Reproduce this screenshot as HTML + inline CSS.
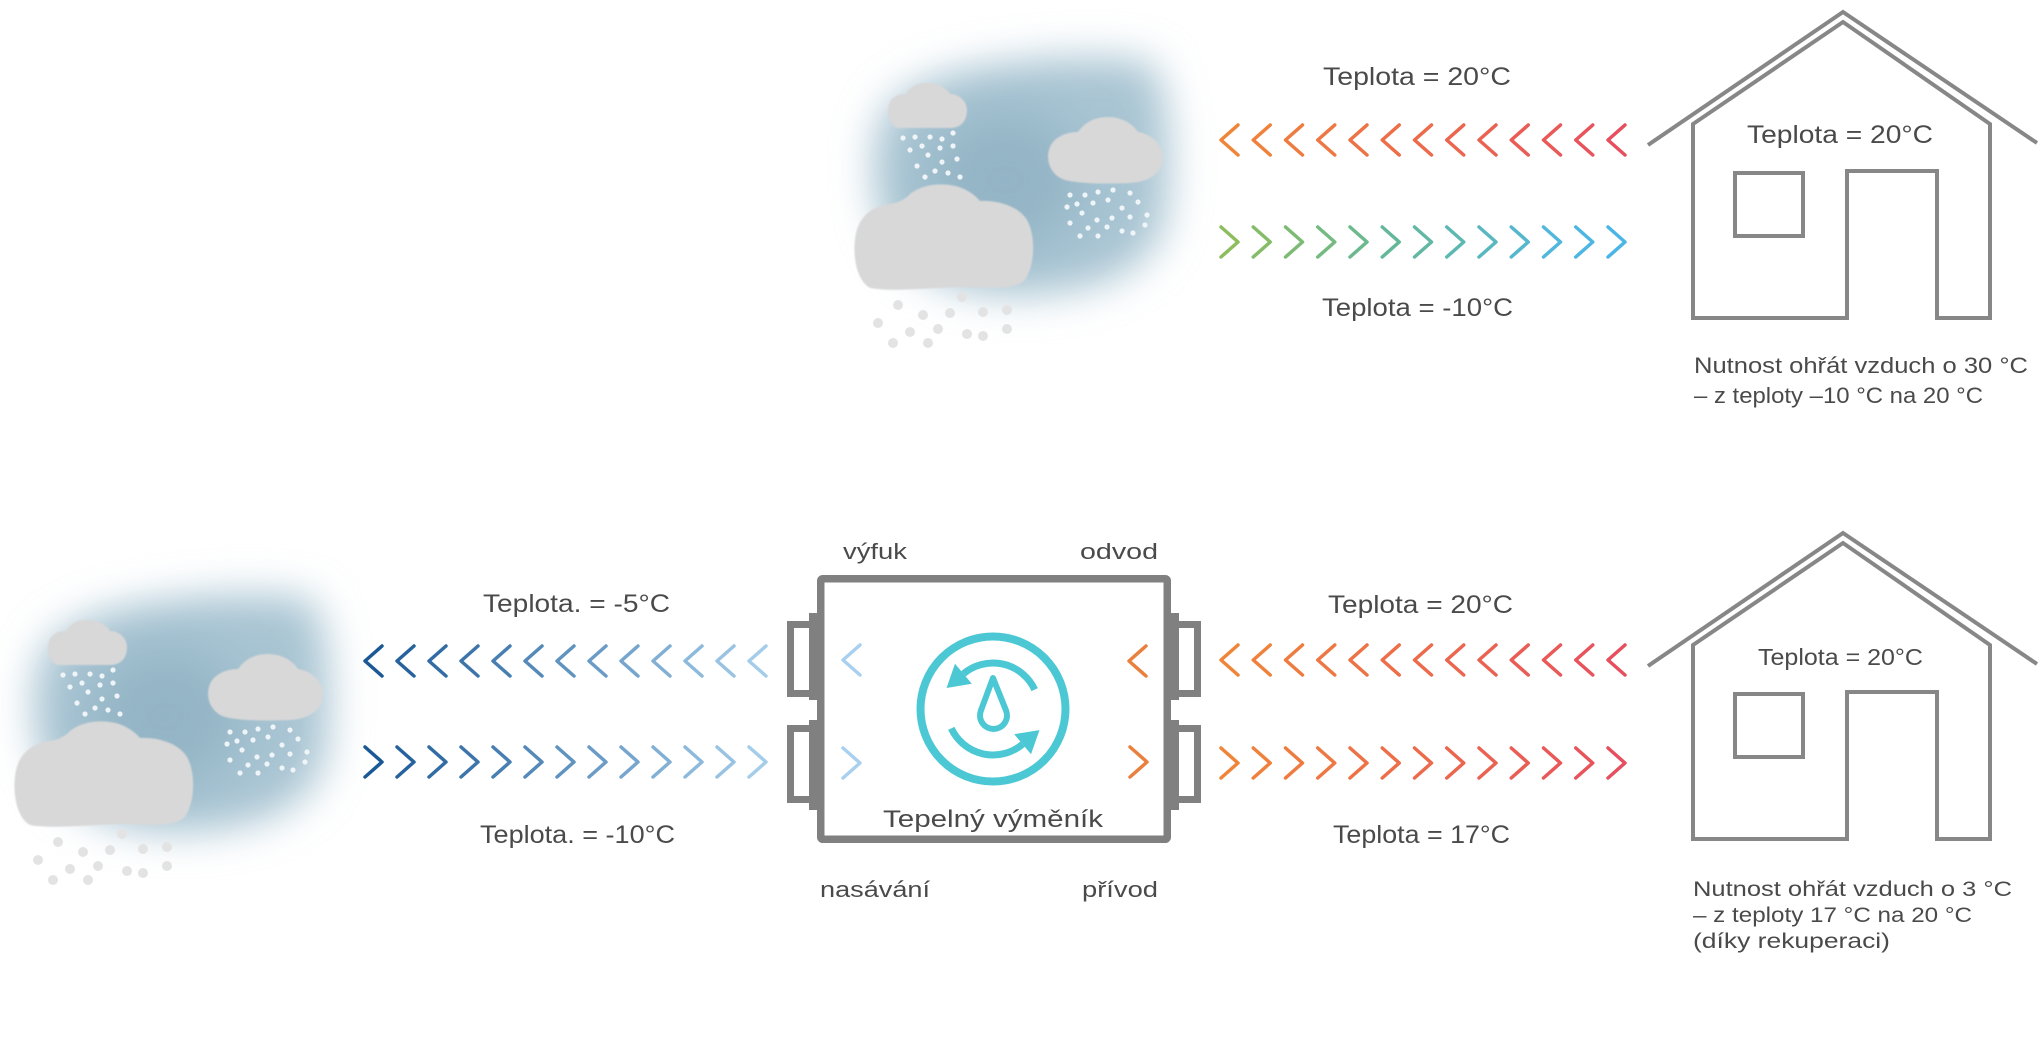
<!DOCTYPE html>
<html>
<head>
<meta charset="utf-8">
<style>
  html,body{margin:0;padding:0;background:#fff;}
  body{width:2038px;height:1040px;overflow:hidden;}
  svg{display:block;}
  text{font-family:"Liberation Sans",Arial,sans-serif;fill:#4a4a4a;}
</style>
</head>
<body>
<svg width="2038" height="1040" viewBox="0 0 2038 1040" xmlns="http://www.w3.org/2000/svg">
  <defs>
    <filter id="blur" x="-50%" y="-50%" width="200%" height="200%">
      <feGaussianBlur stdDeviation="20"/>
    </filter>
    <filter id="blur2" x="-60%" y="-60%" width="220%" height="220%">
      <feGaussianBlur stdDeviation="28"/>
    </filter>
    <filter id="soft" x="-10%" y="-10%" width="120%" height="120%">
      <feGaussianBlur stdDeviation="0.8"/>
    </filter>
    <path id="lt" d="M17 -15 L0 0 L17 15" fill="none"/>
    <path id="gt" d="M0 -15 L17 0 L0 15" fill="none"/>

    <g id="cl">
      <!-- haze -->
      <path d="M878 130 C885 100 915 82 960 72 C1010 60 1090 52 1150 62 C1172 90 1172 170 1166 215 C1160 250 1135 272 1095 285 C1055 296 1005 298 970 290 C925 280 890 255 880 215 C872 185 872 155 878 130 Z" fill="#a9c5d3" filter="url(#blur)"/>
      <ellipse cx="1005" cy="180" rx="80" ry="70" fill="#8cafc1" opacity="0.75" filter="url(#blur2)"/>
      <!-- white dots under small cloud -->
      <g fill="#eef4f7">
        <circle cx="903" cy="138" r="2.6"/><circle cx="915" cy="137" r="2.6"/><circle cx="930" cy="137" r="2.6"/>
        <circle cx="942" cy="139" r="2.6"/><circle cx="953" cy="133" r="2.6"/><circle cx="910" cy="150" r="2.6"/>
        <circle cx="922" cy="146" r="2.6"/><circle cx="940" cy="148" r="2.6"/><circle cx="953" cy="146" r="2.6"/>
        <circle cx="928" cy="155" r="2.6"/><circle cx="917" cy="166" r="2.6"/><circle cx="942" cy="162" r="2.6"/>
        <circle cx="957" cy="159" r="2.6"/><circle cx="925" cy="177" r="2.6"/><circle cx="935" cy="171" r="2.6"/>
        <circle cx="948" cy="173" r="2.6"/><circle cx="960" cy="177" r="2.6"/>
        <!-- under right cloud -->
        <circle cx="1070" cy="195" r="2.6"/><circle cx="1085" cy="195" r="2.6"/><circle cx="1098" cy="192" r="2.6"/>
        <circle cx="1113" cy="190" r="2.6"/><circle cx="1130" cy="193" r="2.6"/><circle cx="1067" cy="207" r="2.6"/>
        <circle cx="1077" cy="204" r="2.6"/><circle cx="1093" cy="203" r="2.6"/><circle cx="1108" cy="200" r="2.6"/>
        <circle cx="1122" cy="208" r="2.6"/><circle cx="1138" cy="202" r="2.6"/><circle cx="1082" cy="213" r="2.6"/>
        <circle cx="1097" cy="220" r="2.6"/><circle cx="1112" cy="218" r="2.6"/><circle cx="1130" cy="217" r="2.6"/>
        <circle cx="1070" cy="223" r="2.6"/><circle cx="1088" cy="228" r="2.6"/><circle cx="1107" cy="227" r="2.6"/>
        <circle cx="1122" cy="231" r="2.6"/><circle cx="1133" cy="233" r="2.6"/><circle cx="1080" cy="236" r="2.6"/>
        <circle cx="1098" cy="236" r="2.6"/><circle cx="1145" cy="225" r="2.6"/><circle cx="1147" cy="215" r="2.6"/>
      </g>
      <!-- clouds -->
      <g fill="#d8d8d8" filter="url(#soft)">
        <path d="M898 128 C888 126 886 110 890 102 C893 96 900 94 906 94 C910 86 920 82 930 83 C940 84 947 89 950 94 C960 94 967 102 967 110 C967 122 960 128 950 128 Z"/>
        <path d="M1065 180 C1050 175 1046 160 1049 150 C1052 138 1065 132 1078 132 C1085 122 1095 117 1108 117 C1122 117 1133 124 1138 132 C1152 134 1163 145 1163 157 C1163 172 1150 182 1130 183 C1110 184 1080 184 1065 180 Z"/>
        <path d="M870 288 C856 280 853 255 855 240 C857 220 868 207 890 204 C898 203 903 200 908 196 C918 186 935 183 950 185 C965 187 975 195 980 201 C995 200 1018 205 1027 220 C1036 236 1035 265 1025 280 C1015 290 990 288 960 287 C930 288 890 292 870 288 Z"/>
      </g>
      <!-- gray dots below big cloud -->
      <g fill="#e3e3e3">
        <circle cx="898" cy="305" r="5"/><circle cx="962" cy="297" r="5"/><circle cx="923" cy="315" r="5"/>
        <circle cx="950" cy="313" r="5"/><circle cx="983" cy="312" r="5"/><circle cx="1007" cy="310" r="5"/>
        <circle cx="878" cy="323" r="5"/><circle cx="910" cy="332" r="5"/><circle cx="938" cy="329" r="5"/>
        <circle cx="967" cy="334" r="5"/><circle cx="983" cy="336" r="5"/><circle cx="1007" cy="329" r="5"/>
        <circle cx="893" cy="343" r="5"/><circle cx="928" cy="343" r="5"/>
      </g>
    </g>
  </defs>

  <!-- ================= TOP SECTION ================= -->
  <use href="#cl"/>

  <text x="1323" y="85" font-size="25" textLength="188" lengthAdjust="spacingAndGlyphs">Teplota = 20°C</text>
  <text x="1322" y="316" font-size="25" textLength="191" lengthAdjust="spacingAndGlyphs">Teplota = -10°C</text>

  <g stroke-width="3.5" stroke-linecap="round" stroke-linejoin="round">
    <use href="#lt" x="1221" y="140" stroke="#f0853a"/>
    <use href="#lt" x="1253.25" y="140" stroke="#ef813d"/>
    <use href="#lt" x="1285.5" y="140" stroke="#ee7c40"/>
    <use href="#lt" x="1317.75" y="140" stroke="#ee7843"/>
    <use href="#lt" x="1350" y="140" stroke="#ed7346"/>
    <use href="#lt" x="1382.25" y="140" stroke="#ec6f49"/>
    <use href="#lt" x="1414.5" y="140" stroke="#eb6b4c"/>
    <use href="#lt" x="1446.75" y="140" stroke="#ea664f"/>
    <use href="#lt" x="1479" y="140" stroke="#e96252"/>
    <use href="#lt" x="1511.25" y="140" stroke="#e95d55"/>
    <use href="#lt" x="1543.5" y="140" stroke="#e85958"/>
    <use href="#lt" x="1575.75" y="140" stroke="#e7545b"/>
    <use href="#lt" x="1608" y="140" stroke="#e6505e"/>

    <use href="#gt" x="1221" y="242" stroke="#8dbd5d"/>
    <use href="#gt" x="1253.25" y="242" stroke="#85bc69"/>
    <use href="#gt" x="1285.5" y="242" stroke="#7dbb75"/>
    <use href="#gt" x="1317.75" y="242" stroke="#74ba81"/>
    <use href="#gt" x="1350" y="242" stroke="#6cb98d"/>
    <use href="#gt" x="1382.25" y="242" stroke="#64b899"/>
    <use href="#gt" x="1414.5" y="242" stroke="#62b8a4"/>
    <use href="#gt" x="1446.75" y="242" stroke="#5eb8b2"/>
    <use href="#gt" x="1479" y="242" stroke="#59b7c0"/>
    <use href="#gt" x="1511.25" y="242" stroke="#55b7ce"/>
    <use href="#gt" x="1543.5" y="242" stroke="#51b7dc"/>
    <use href="#gt" x="1575.75" y="242" stroke="#4eb6e2"/>
    <use href="#gt" x="1608" y="242" stroke="#4bb6e6"/>
  </g>

  <!-- house 1 -->
  <g id="house" fill="none" stroke="#878787" stroke-width="4" stroke-linejoin="miter">
    <polyline points="1648,145 1843,12 2037,143"/>
    <path d="M1847 318 L1693 318 L1693 124 L1843 22 L1990 124 L1990 318 L1937 318 L1937 171 L1847 171 Z"/>
    <rect x="1735" y="173" width="68" height="63"/>
  </g>
  <text x="1747" y="143" font-size="25" textLength="186" lengthAdjust="spacingAndGlyphs">Teplota = 20°C</text>
  <text x="1694" y="373" font-size="22" textLength="334" lengthAdjust="spacingAndGlyphs">Nutnost ohřát vzduch o 30 °C</text>
  <text x="1694" y="403" font-size="22" textLength="289" lengthAdjust="spacingAndGlyphs">– z teploty –10 °C na 20 °C</text>

  <!-- ================= BOTTOM SECTION ================= -->
  <use href="#cl" transform="translate(-840,537)"/>

  <text x="483" y="612" font-size="25" textLength="187" lengthAdjust="spacingAndGlyphs">Teplota. = -5°C</text>
  <text x="480" y="843" font-size="25" textLength="195" lengthAdjust="spacingAndGlyphs">Teplota. = -10°C</text>

  <g stroke-width="3.5" stroke-linecap="round" stroke-linejoin="round">
    <use href="#lt" x="365" y="661" stroke="#1a5896"/>
    <use href="#lt" x="397" y="661" stroke="#26629d"/>
    <use href="#lt" x="429" y="661" stroke="#316ca4"/>
    <use href="#lt" x="461" y="661" stroke="#3d75ab"/>
    <use href="#lt" x="493" y="661" stroke="#487fb2"/>
    <use href="#lt" x="525" y="661" stroke="#5489b9"/>
    <use href="#lt" x="557" y="661" stroke="#5f93c0"/>
    <use href="#lt" x="589" y="661" stroke="#6b9cc7"/>
    <use href="#lt" x="621" y="661" stroke="#76a6ce"/>
    <use href="#lt" x="653" y="661" stroke="#82b0d5"/>
    <use href="#lt" x="685" y="661" stroke="#8dbadc"/>
    <use href="#lt" x="717" y="661" stroke="#99c3e3"/>
    <use href="#lt" x="749" y="661" stroke="#a4cdea"/>

    <use href="#gt" x="365" y="762" stroke="#1a5896"/>
    <use href="#gt" x="397" y="762" stroke="#26629d"/>
    <use href="#gt" x="429" y="762" stroke="#316ca4"/>
    <use href="#gt" x="461" y="762" stroke="#3d75ab"/>
    <use href="#gt" x="493" y="762" stroke="#487fb2"/>
    <use href="#gt" x="525" y="762" stroke="#5489b9"/>
    <use href="#gt" x="557" y="762" stroke="#5f93c0"/>
    <use href="#gt" x="589" y="762" stroke="#6b9cc7"/>
    <use href="#gt" x="621" y="762" stroke="#76a6ce"/>
    <use href="#gt" x="653" y="762" stroke="#82b0d5"/>
    <use href="#gt" x="685" y="762" stroke="#8dbadc"/>
    <use href="#gt" x="717" y="762" stroke="#99c3e3"/>
    <use href="#gt" x="749" y="762" stroke="#a4cdea"/>

    <!-- inner chevrons -->
    <use href="#lt" x="843" y="660" stroke="#a9d1ef"/>
    <use href="#gt" x="843" y="763" stroke="#a9d1ef"/>
    <use href="#lt" x="1129" y="661" stroke="#e9803e"/>
    <use href="#gt" x="1130" y="762" stroke="#e9803e"/>

    <!-- right rows -->
    <use href="#lt" x="1221" y="660" stroke="#f0853a"/>
    <use href="#lt" x="1253.25" y="660" stroke="#ef813d"/>
    <use href="#lt" x="1285.5" y="660" stroke="#ee7c40"/>
    <use href="#lt" x="1317.75" y="660" stroke="#ee7843"/>
    <use href="#lt" x="1350" y="660" stroke="#ed7346"/>
    <use href="#lt" x="1382.25" y="660" stroke="#ec6f49"/>
    <use href="#lt" x="1414.5" y="660" stroke="#eb6b4c"/>
    <use href="#lt" x="1446.75" y="660" stroke="#ea664f"/>
    <use href="#lt" x="1479" y="660" stroke="#e96252"/>
    <use href="#lt" x="1511.25" y="660" stroke="#e95d55"/>
    <use href="#lt" x="1543.5" y="660" stroke="#e85958"/>
    <use href="#lt" x="1575.75" y="660" stroke="#e7545b"/>
    <use href="#lt" x="1608" y="660" stroke="#e6505e"/>

    <use href="#gt" x="1221" y="763" stroke="#f0853a"/>
    <use href="#gt" x="1253.25" y="763" stroke="#ef813d"/>
    <use href="#gt" x="1285.5" y="763" stroke="#ee7c40"/>
    <use href="#gt" x="1317.75" y="763" stroke="#ee7843"/>
    <use href="#gt" x="1350" y="763" stroke="#ed7346"/>
    <use href="#gt" x="1382.25" y="763" stroke="#ec6f49"/>
    <use href="#gt" x="1414.5" y="763" stroke="#eb6b4c"/>
    <use href="#gt" x="1446.75" y="763" stroke="#ea664f"/>
    <use href="#gt" x="1479" y="763" stroke="#e96252"/>
    <use href="#gt" x="1511.25" y="763" stroke="#e95d55"/>
    <use href="#gt" x="1543.5" y="763" stroke="#e85958"/>
    <use href="#gt" x="1575.75" y="763" stroke="#e7545b"/>
    <use href="#gt" x="1608" y="763" stroke="#e6505e"/>
  </g>

  <!-- exchanger box -->
  <g stroke="#808080" fill="none">
    <rect x="820.75" y="578.75" width="346.5" height="260.5" rx="2" stroke-width="7.5"/>
    <path d="M809 624.5 L790.5 624.5 L790.5 693.5 L809 693.5" stroke-width="7"/>
    <path d="M809 728.5 L790.5 728.5 L790.5 799.5 L809 799.5" stroke-width="7"/>
    <path d="M1179 624.5 L1197.5 624.5 L1197.5 693.5 L1179 693.5" stroke-width="7"/>
    <path d="M1179 728.5 L1197.5 728.5 L1197.5 799.5 L1179 799.5" stroke-width="7"/>
  </g>
  <g fill="#808080">
    <rect x="809" y="613" width="9" height="87"/>
    <rect x="809" y="720" width="9" height="90"/>
    <rect x="1170" y="613" width="9" height="87"/>
    <rect x="1170" y="720" width="9" height="90"/>
  </g>

  <!-- icon -->
  <g stroke="#4cc8d4" fill="none" stroke-linecap="butt">
    <circle cx="993" cy="709" r="72.5" stroke-width="8"/>
    <path d="M1034.7 689.6 A46 46 0 0 0 963.4 673.8" stroke-width="7"/>
    <path d="M951.3 728.4 A46 46 0 0 0 1022.6 744.2" stroke-width="7"/>
    <path d="M993 678 L1006.1 710.6 A13.5 13.5 0 1 1 980.9 710.6 Z" stroke-width="6" stroke-linejoin="round"/>
  </g>
  <g fill="#4cc8d4">
    <polygon points="955,663.8 971.8,683.8 946.5,688"/>
    <polygon points="1031,754.2 1014.2,734.2 1039.5,730.1"/>
  </g>

  <text x="843" y="559" font-size="22" textLength="64" lengthAdjust="spacingAndGlyphs">výfuk</text>
  <text x="1080" y="559" font-size="22" textLength="78" lengthAdjust="spacingAndGlyphs">odvod</text>
  <text x="820" y="897" font-size="22" textLength="110" lengthAdjust="spacingAndGlyphs">nasávání</text>
  <text x="1082" y="897" font-size="22" textLength="76" lengthAdjust="spacingAndGlyphs">přívod</text>
  <text x="883" y="827" font-size="24" textLength="220" lengthAdjust="spacingAndGlyphs">Tepelný výměník</text>

  <text x="1328" y="613" font-size="25" textLength="185" lengthAdjust="spacingAndGlyphs">Teplota = 20°C</text>
  <text x="1333" y="843" font-size="25" textLength="177" lengthAdjust="spacingAndGlyphs">Teplota = 17°C</text>

  <!-- house 2 -->
  <use href="#house" transform="translate(0,521)"/>
  <text x="1758" y="665" font-size="23" textLength="165" lengthAdjust="spacingAndGlyphs">Teplota = 20°C</text>
  <text x="1693" y="896" font-size="21" textLength="319" lengthAdjust="spacingAndGlyphs">Nutnost ohřát vzduch o 3 °C</text>
  <text x="1693" y="922" font-size="21" textLength="279" lengthAdjust="spacingAndGlyphs">– z teploty 17 °C na 20 °C</text>
  <text x="1693" y="948" font-size="21" textLength="197" lengthAdjust="spacingAndGlyphs">(díky rekuperaci)</text>
</svg>
</body>
</html>
